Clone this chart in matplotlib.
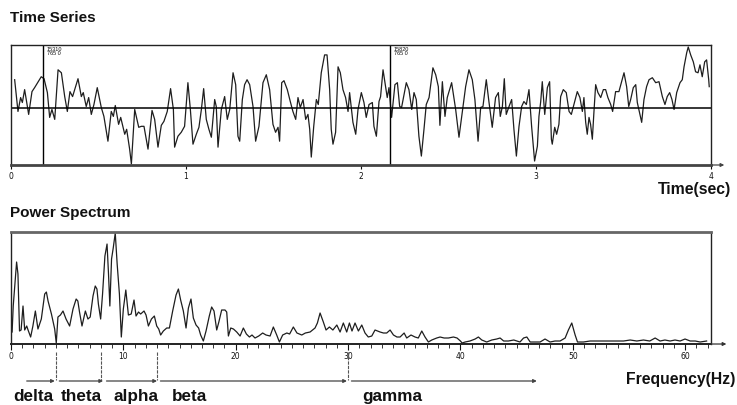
import matplotlib.pyplot as plt

# ---- EEG time series (sec, arbitrary uV) ----
ts_t = [0.021, 0.040, 0.055, 0.065, 0.078, 0.101, 0.120, 0.135, 0.173, 0.189,
        0.208, 0.221, 0.234, 0.250, 0.269, 0.288, 0.307, 0.322, 0.337, 0.352,
        0.383, 0.402, 0.413, 0.430, 0.444, 0.459, 0.474, 0.493, 0.516, 0.531,
        0.554, 0.573, 0.585, 0.596, 0.615, 0.627, 0.650, 0.661, 0.678, 0.688,
        0.707, 0.730, 0.745, 0.760, 0.783, 0.806, 0.821, 0.840, 0.859, 0.874,
        0.893, 0.912, 0.928, 0.935, 0.954, 0.973, 0.992,
        1.011, 1.025, 1.040, 1.059, 1.074, 1.088, 1.101, 1.116, 1.131, 1.145,
        1.164, 1.173, 1.183, 1.202, 1.221, 1.236, 1.250, 1.269, 1.284, 1.297,
        1.307, 1.322, 1.335, 1.349, 1.364, 1.383, 1.398, 1.417, 1.440, 1.459,
        1.478, 1.497, 1.512, 1.526, 1.535, 1.547, 1.560, 1.579, 1.596, 1.611,
        1.627, 1.640, 1.653, 1.669, 1.684, 1.697, 1.707, 1.716, 1.730, 1.745,
        1.756, 1.773, 1.792, 1.806, 1.821, 1.830, 1.840, 1.855, 1.869, 1.882,
        1.897, 1.912, 1.926, 1.935, 1.954, 1.970, 1.983, 2.002,
        2.017, 2.030, 2.046, 2.065, 2.074, 2.088, 2.103, 2.112, 2.126, 2.137,
        2.150, 2.160, 2.175, 2.194, 2.208, 2.221, 2.232, 2.259, 2.274, 2.290,
        2.303, 2.316, 2.331, 2.345, 2.360, 2.373, 2.389, 2.411, 2.427, 2.442,
        2.451, 2.465, 2.480, 2.493, 2.518, 2.541, 2.560, 2.583, 2.598, 2.617,
        2.636, 2.651, 2.669, 2.684, 2.697, 2.716, 2.731, 2.750, 2.769, 2.785,
        2.796, 2.808, 2.819, 2.830, 2.846, 2.861, 2.874, 2.888, 2.903, 2.918,
        2.931, 2.945, 2.960, 2.975, 2.992,
        3.008, 3.017, 3.027, 3.036, 3.050, 3.065, 3.078, 3.088, 3.093, 3.107,
        3.118, 3.131, 3.141, 3.156, 3.173, 3.189, 3.202, 3.217, 3.236, 3.251,
        3.265, 3.274, 3.284, 3.293, 3.303, 3.312, 3.322, 3.331, 3.341, 3.354,
        3.370, 3.385, 3.398, 3.411, 3.427, 3.438, 3.455, 3.474, 3.488, 3.503,
        3.518, 3.530, 3.541, 3.556, 3.570, 3.579, 3.594, 3.604, 3.617, 3.632,
        3.646, 3.665, 3.684, 3.703, 3.722, 3.737, 3.750, 3.764, 3.777, 3.789,
        3.804, 3.823, 3.836, 3.846, 3.861, 3.870, 3.884, 3.899, 3.912, 3.926,
        3.937, 3.950, 3.964, 3.975, 3.987, 3.990]
ts_v = [29, -3, 11, 6, 19, -6, 17, 21, 32, 30,
        16, -9, -1, -11, 39, 36, 12, -3, 17, 12,
        30, 12, 16, 2, 11, -6, 4, 21, 1, -8,
        -33, -3, -8, 3, -16, -9, -26, -21, -41, -56,
        -1, -19, -18, -18, -41, -2, -11, -39, -17, -13,
        -3, 20, -1, -39, -28, -24, -18,
        26, -1, -36, -26, -19, -1, 20, -11, -21, -29,
        9, 2, -39, -1, 12, -11, -1, 36, 24, -28,
        -33, 9, 24, 29, 24, 2, -33, -18, 26, 34,
        19, -16, -24, -19, -33, 26, 28, 19, 7, -3,
        -11, 11, 1, 9, -11, -6, -21, -49, -18, 9,
        4, 36, 54, 54, 19, -21, -36, -24, 42, 36,
        19, 11, -3, 16, -14, -26, -1, 16,
        6, -9, 4, 6, -18, -28, 7, 12, 39, 26,
        11, 21, -9, 24, 26, 2, 1, 26, 19, -1,
        16, 9, -28, -48, -21, 4, 11, 41, 34, 22,
        -17, 27, -8, 11, 26, -1, -29, 2, 22, 39,
        29, 9, -33, 1, 2, 29, 7, -19, 11, 16,
        -8, 2, 30, -6, 2, 9, -21, -48, -18, 2,
        7, 4, 19, -18, -53,
        -38, -8, 7, 27, -6, 21, 27, -31, -36, -19,
        -26, -16, 12, 19, 16, -3, -6, 4, 17, 11,
        -3, 11, -14, -26, -9, -16, -31, -4, 24, 16,
        11, 19, 19, 11, 4, -3, 17, 17, 26, 36,
        22, 2, 9, 21, 24, 6, -6, -14, 9, 22,
        29, 31, 26, 27, 12, 4, 12, 16, 9, -1,
        16, 26, 29, 42, 56, 62, 54, 47, 37, 36,
        44, 32, 47, 49, 29, 22]

cursor_t = [0.183, 2.166]
cursor_txt = ["15310\n765 0", "15820\n765 0"]

# ---- power spectrum (Hz, arbitrary power) ----
ps_f = [0.10, 0.20, 0.35, 0.50, 0.62, 0.76, 0.90, 1.07, 1.22, 1.40,
        1.52, 1.75, 1.95, 2.17, 2.40, 2.70, 3.00, 3.15, 3.30, 3.60,
        3.89, 4.03, 4.18, 4.40, 4.63, 4.90, 5.22, 5.52, 5.80, 5.95,
        6.10, 6.32, 6.62, 6.85, 7.05, 7.30, 7.50, 7.65, 7.78, 7.98,
        8.15, 8.36, 8.55, 8.68, 8.80, 8.95, 9.10, 9.28, 9.45, 9.65,
        9.82, 10.00, 10.22, 10.45, 10.70, 10.95, 11.13, 11.35, 11.54, 11.84,
        12.02, 12.23, 12.50, 12.76, 12.97, 13.15, 13.32, 13.56, 13.86, 14.10,
        14.39, 14.69, 14.90, 15.10, 15.34, 15.58, 15.79, 16.02, 16.23, 16.47,
        16.70, 16.88, 17.12, 17.36, 17.65, 17.86, 18.07, 18.31, 18.50, 18.75,
        19.05, 19.20, 19.35, 19.56, 19.80, 20.09, 20.39, 20.68, 20.95, 21.22,
        21.45, 21.72, 22.05, 22.40, 22.70, 23.06, 23.35, 23.65, 23.89, 24.18,
        24.55, 24.80, 25.13, 25.45, 25.88, 26.20, 26.62, 27.06, 27.27, 27.51,
        27.80, 28.04, 28.34, 28.65, 29.00, 29.29, 29.58, 29.88, 30.12, 30.35,
        30.62, 30.92, 31.22, 31.51, 31.80, 32.11, 32.40, 32.85, 33.15, 33.44,
        33.74, 34.04, 34.35, 34.63, 34.99, 35.22, 35.60, 35.96, 36.25, 36.56,
        36.85, 37.15, 37.45, 37.89, 38.19, 38.55, 38.93, 39.38, 39.70, 40.00,
        40.15, 40.42, 40.85, 41.31, 41.60, 41.90, 42.34, 42.79, 43.23, 43.53,
        43.85, 44.27, 44.75, 45.30, 45.62, 45.91, 46.21, 46.65, 47.09, 47.53,
        47.98, 48.42, 48.87, 49.32, 49.61, 49.91, 50.21, 50.42, 50.95, 51.54,
        52.13, 52.73, 53.33, 53.92, 54.52, 55.11, 55.70, 56.29, 56.85, 57.33,
        57.77, 58.20, 58.66, 59.10, 59.55, 59.99, 60.45, 60.90, 61.33, 61.91]
ps_p = [12, 38, 60, 82, 70, 13, 14, 38, 14, 18,
        14, 7, 18, 33, 15, 25, 50, 52, 43, 30,
        15, 1, 27, 29, 33, 25, 18, 35, 45, 43,
        32, 18, 33, 25, 27, 48, 58, 55, 40, 25,
        50, 88, 100, 70, 38, 85, 96, 111, 80, 50,
        7, 35, 54, 29, 30, 44, 28, 32, 30, 33,
        29, 18, 25, 28, 18, 15, 9, 13, 16, 16,
        33, 49, 55, 44, 33, 16, 36, 45, 26, 19,
        16, 9, 3, 13, 28, 37, 33, 14, 22, 34,
        34, 32, 8, 16, 15, 12, 8, 16, 10, 7,
        9, 6, 8, 11, 9, 8, 17, 9, 2, 9,
        11, 10, 17, 11, 9, 11, 12, 16, 21, 31,
        22, 14, 17, 14, 19, 12, 21, 12, 21, 13,
        21, 13, 19, 11, 7, 8, 14, 12, 11, 11,
        14, 9, 7, 7, 11, 6, 9, 7, 6, 13,
        7, 2, 4, 6, 7, 6, 6, 7, 6, 3,
        1, 2, 3, 5, 7, 4, 2, 4, 5, 6,
        3, 3, 4, 2, 6, 7, 2, 2, 2, 5,
        2, 3, 3, 6, 14, 21, 9, 2, 2, 3,
        3, 3, 3, 3, 3, 4, 3, 4, 3, 6,
        3, 4, 3, 4, 3, 5, 3, 3, 2, 3]

bands = ["delta", "theta", "alpha", "beta", "gamma"]
band_lo = [1.4, 4.3, 8.5, 13.3, 30.3]
band_hi = [3.9, 8.2, 13.0, 29.9, 46.8]
band_edges = [4, 8, 13, 30]
band_text_x = [0.2, 4.4, 9.1, 14.3, 31.3]

LINE = '#1e1e1e'
TXT = '#111111'
FONT = ['Liberation Sans', 'DejaVu Sans']

fig = plt.figure(figsize=(7.37, 4.05), dpi=100)

# ---------------- time series ----------------
ax1 = fig.add_axes([0.0149, 0.5926, 0.9498, 0.2963])
ax1.plot(ts_t, ts_v, color=LINE, lw=0.9)
ax1.axhline(0, color='black', lw=1.1)
for t, s in zip(cursor_t, cursor_txt):
    ax1.axvline(t, color='black', lw=1.0)
    ax1.text(t + 0.02, 62, s, fontsize=4, va='top', ha='left',
             color=TXT, linespacing=0.85, family=FONT)
ax1.set_xlim(0, 4)
ax1.set_ylim(-57, 64)
ax1.set_yticks([])
ax1.set_xticks([0, 1, 2, 3, 4])
ax1.tick_params(axis='x', length=3, width=0.8, pad=2, labelsize=5.5,
                colors=TXT)
for sp in ax1.spines.values():
    sp.set_linewidth(1.0)
    sp.set_color('#222222')
ax1.spines['bottom'].set_linewidth(2.0)
ax1.spines['bottom'].set_color('#444444')
ax1.annotate('', xy=(1.019, 0), xytext=(1.0, 0), xycoords='axes fraction',
             arrowprops=dict(arrowstyle='-|>', lw=0.9, color='#444444',
                             mutation_scale=5, shrinkA=0, shrinkB=0))
fig.text(0.0136, 0.955, 'Time Series', fontsize=11, fontweight='bold',
         color=TXT, family=FONT, va='center')
fig.text(0.992, 0.531, 'Time(sec)', fontsize=11.3, fontweight='bold',
         color=TXT, family=FONT, ha='right', va='center')

# ---------------- power spectrum ----------------
ax2 = fig.add_axes([0.0149, 0.1506, 0.9498, 0.2765])
ax2.plot(ps_f, ps_p, color=LINE, lw=0.9)
ax2.set_xlim(0, 62.3)
ax2.set_ylim(0, 112)
ax2.set_yticks([])
ax2.set_xticks(range(0, 61, 10))
ax2.set_xticks(range(0, 63), minor=True)
ax2.tick_params(axis='x', which='major', length=4, width=0.8, pad=2,
                labelsize=5.5, colors=TXT)
ax2.tick_params(axis='x', which='minor', length=3, width=0.7, colors='#333333')
for sp in ax2.spines.values():
    sp.set_linewidth(1.0)
    sp.set_color('#222222')
ax2.spines['top'].set_linewidth(2.0)
ax2.spines['top'].set_color('#666666')
ax2.spines['bottom'].set_linewidth(1.4)
ax2.annotate('', xy=(1.022, 0), xytext=(1.0, 0), xycoords='axes fraction',
             arrowprops=dict(arrowstyle='-|>', lw=0.9, color='#333333',
                             mutation_scale=5, shrinkA=0, shrinkB=0))

# band boundaries and arrows below the frequency axis
for e in band_edges:
    ax2.plot([e, e], [-8, -36], color='#555555', lw=0.8, ls=(0, (3, 1)),
             clip_on=False)
for name, lo, hi, tx in zip(bands, band_lo, band_hi, band_text_x):
    ax2.annotate('', xy=(hi, -37), xytext=(lo, -37), xycoords='data',
                 annotation_clip=False,
                 arrowprops=dict(arrowstyle='-|>', lw=0.9, color='#444444',
                                 mutation_scale=5, shrinkA=0, shrinkB=0))
    ax2.text(tx, -53, name, fontsize=12.3, fontweight='bold', color=TXT,
             family=FONT, ha='left', va='center', clip_on=False)

fig.text(0.0136, 0.474, 'Power Spectrum', fontsize=11, fontweight='bold',
         color=TXT, family=FONT, va='center')
fig.text(0.998, 0.062, 'Frequency(Hz)', fontsize=11.3, fontweight='bold',
         color=TXT, family=FONT, ha='right', va='center')

fig.savefig('out.png', dpi=100)
